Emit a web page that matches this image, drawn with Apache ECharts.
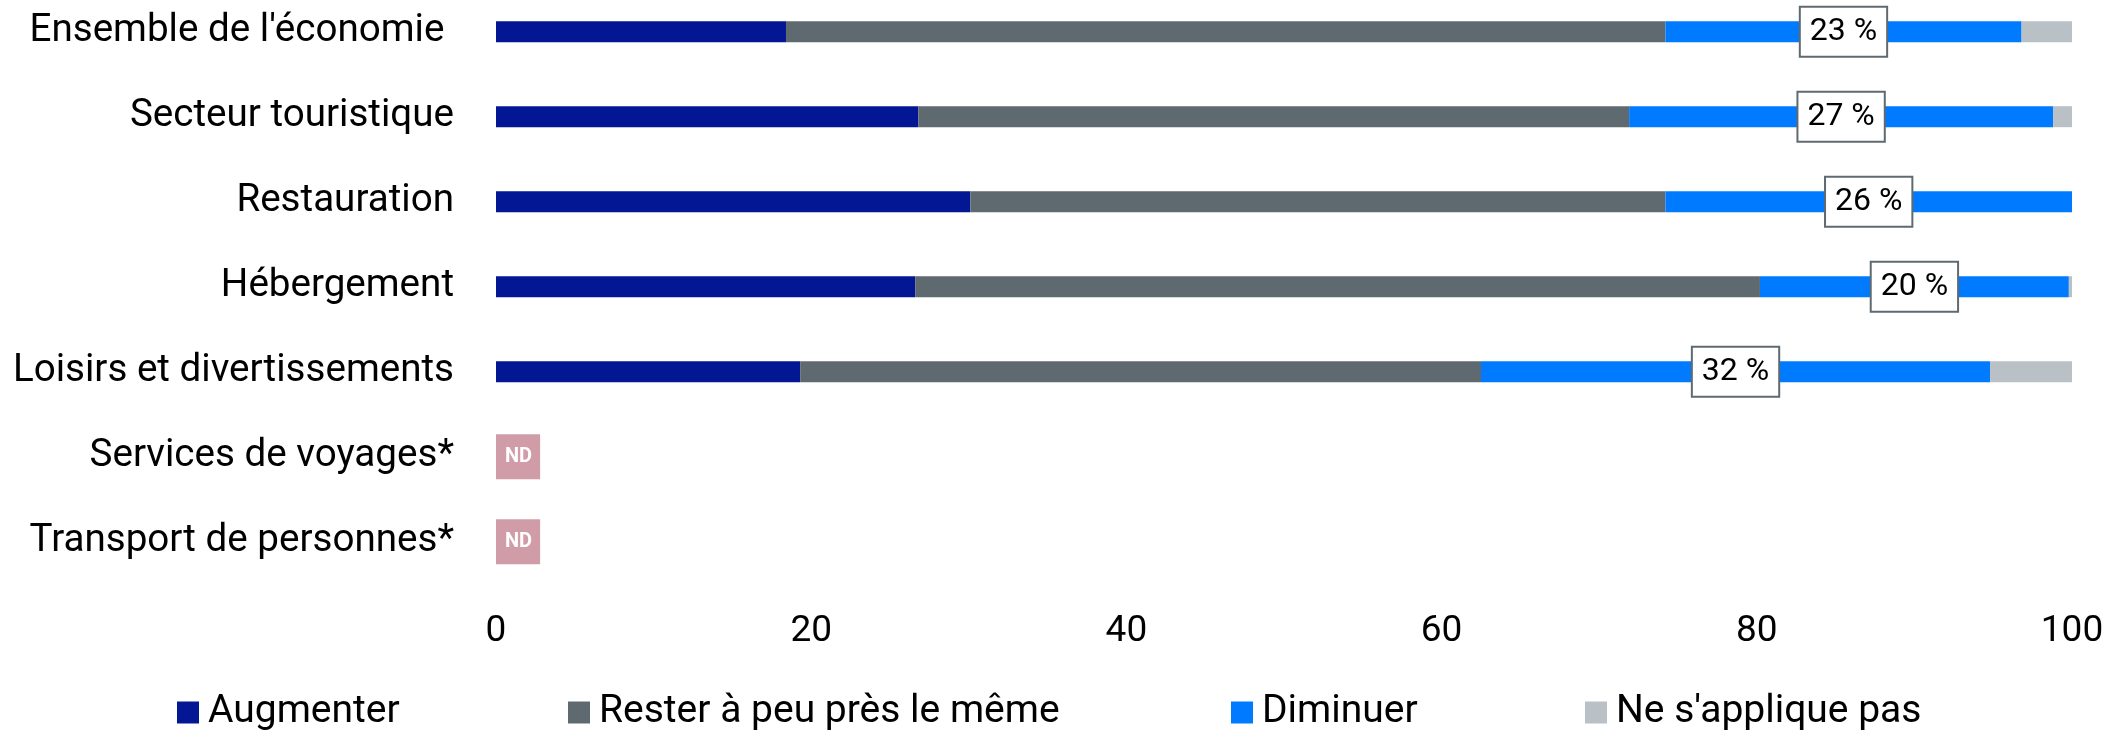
<!DOCTYPE html>
<html>
<head>
<meta charset="utf-8">
<script src="https://cdn.jsdelivr.net/npm/echarts@6/dist/echarts.min.js"></script>
<style>
  html, body { margin: 0; padding: 0; background: #fff; }
  #chart { width: 2107px; height: 731px; }
</style>
</head>
<body>
<div id="chart"></div>
<script>
var categories = [
  "Ensemble de l'économie ",
  'Secteur touristique',
  'Restauration',
  'Hébergement',
  'Loisirs et divertissements',
  'Services de voyages*',
  'Transport de personnes*'
];
var augmenter = [18.4, 26.8, 30.1, 26.6, 19.3, null, null];
var rester = [55.8, 45.1, 44.1, 53.6, 43.2, null, null];
var diminuer = [22.6, 26.9, 25.8, 19.6, 32.3, null, null];
var nePas = [3.2, 1.2, 0, 0.2, 5.2, null, null];
var nd = [null, null, null, null, null, 0, 0];
var xTicks = [0, 20, 40, 60, 80, 100];

var legendNames = ['Augmenter', 'Rester à peu près le même', 'Diminuer', "Ne s'applique pas"];
var legendLeft = [177, 568, 1231, 1585];

var font = 'Roboto';

function stackSeries(name, values, color) {
  return {
    name: name,
    type: 'bar',
    stack: 'total',
    barWidth: 21,
    barGap: '-100%',
    clip: false,
    data: values,
    itemStyle: { color: color },
    emphasis: { disabled: true }
  };
}

var series = [
  stackSeries('Augmenter', augmenter, '#031795'),
  stackSeries('Rester à peu près le même', rester, '#5f6a70'),
  stackSeries('Diminuer', diminuer, '#007bff'),
  stackSeries("Ne s'applique pas", nePas, '#b9c1c6'),
  {
    name: 'ND',
    type: 'bar',
    barWidth: 21,
    barGap: '-100%',
    clip: false,
    data: nd,
    itemStyle: { color: 'transparent' },
    label: {
      show: true,
      position: 'right',
      distance: 0,
      formatter: 'ND',
      color: '#fff',
      fontFamily: font,
      fontWeight: 'bold',
      fontSize: 20,
      lineHeight: 20,
      backgroundColor: '#d09ca8',
      padding: [12, 8, 13, 9]
    }
  }
];

series[2].label = {
  show: true,
  position: 'inside',
  formatter: function (p) { return Math.round(p.value) + ' %'; },
  color: '#000',
  fontFamily: font,
  fontSize: 32,
  lineHeight: 32,
  backgroundColor: '#fff',
  borderColor: '#5f6a70',
  borderWidth: 2,
  padding: [8, 9]
};

var legends = legendNames.map(function (name, i) {
  return {
    data: [name],
    left: legendLeft[i],
    top: 693,
    padding: 0,
    itemWidth: 22,
    itemHeight: 22,
    itemGap: 0,
    icon: 'rect',
    textStyle: { fontFamily: font, fontSize: 39, color: '#000', padding: [0, 0, 0, 4] },
    selectedMode: false
  };
});

var option = {
  animation: false,
  legend: legends,
  grid: {
    left: 496,
    right: 35,
    top: 31.7,
    height: 510
  },
  xAxis: {
    type: 'value',
    min: 0,
    max: 100,
    interval: 20,
    axisLine: { show: false },
    axisTick: { show: false },
    splitLine: { show: false },
    axisLabel: {
      margin: 72,
      fontFamily: font,
      fontSize: 37,
      color: '#000',
      formatter: function (v) { return xTicks.indexOf(v) >= 0 ? String(v) : ''; }
    }
  },
  yAxis: {
    type: 'category',
    inverse: true,
    boundaryGap: false,
    data: categories,
    axisLine: { show: false },
    axisTick: { show: false },
    splitLine: { show: false },
    axisLabel: {
      margin: 42,
      fontFamily: font,
      fontSize: 38.6,
      color: '#000'
    }
  },
  series: series
};

var myChart = echarts.init(document.getElementById('chart'));
myChart.setOption(option);
</script>
</body>
</html>
